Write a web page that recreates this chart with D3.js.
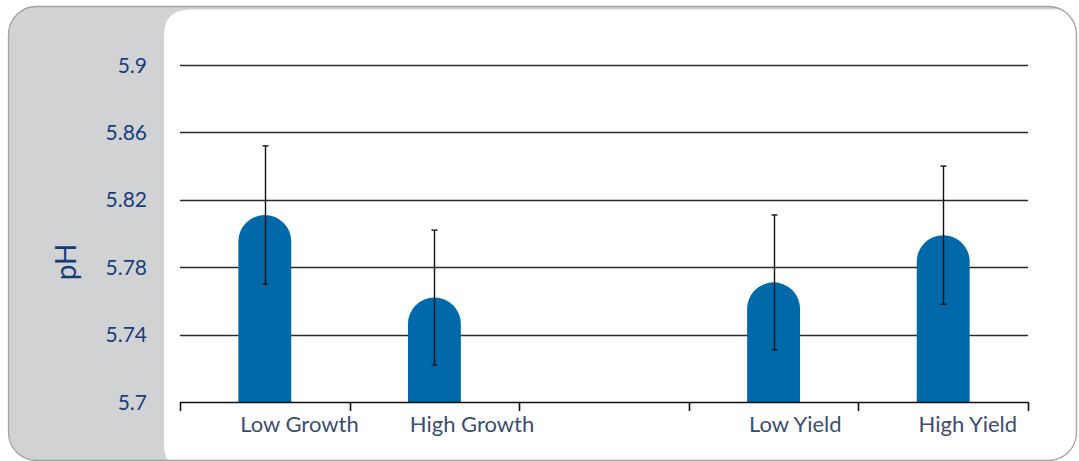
<!DOCTYPE html>
<html>
<head>
<meta charset="utf-8">
<script src="https://cdn.jsdelivr.net/npm/d3@7"></script>
<style>
html,body{margin:0;padding:0;background:#ffffff;}
svg{display:block;}
</style>
</head>
<body>
<svg id="chart" width="1079" height="461"></svg>
<script>
// ---- data ----
const slots = ["Low Growth", "High Growth", "", "Low Yield", "High Yield"];
const categories = ["Low Growth", "High Growth", "Low Yield", "High Yield"];
const values = [5.811, 5.762, 5.771, 5.799];
const errors = [0.041, 0.040, 0.040, 0.041];
const yTicks = [5.7, 5.74, 5.78, 5.82, 5.86, 5.9];
const yTickLabels = ["5.7", "5.74", "5.78", "5.82", "5.86", "5.9"];
const yTitle = "pH";

// ---- layout ----
const svg = d3.select("#chart");

const panel = {x: 8.5, y: 6.5, w: 1068, h: 454, r: 28};
const defs = svg.append("defs");
defs.append("clipPath").attr("id", "panelClip")
  .append("rect").attr("x", panel.x).attr("y", panel.y)
  .attr("width", panel.w).attr("height", panel.h).attr("rx", panel.r);

svg.append("rect").attr("x", panel.x).attr("y", panel.y)
  .attr("width", panel.w).attr("height", panel.h).attr("rx", panel.r)
  .attr("fill", "#d1d2d4");

// white plot area with rounded left corners
const wx = 164, wy = 9.5, wr = 26, wb = 470;
svg.append("path")
  .attr("clip-path", "url(#panelClip)")
  .attr("d", `M${wx},${wb - wr} L${wx},${wy + wr} Q${wx},${wy} ${wx + wr},${wy} L1090,${wy} L1090,${wb} L${wx + wr},${wb} Q${wx},${wb} ${wx},${wb - wr} Z`)
  .attr("fill", "#ffffff");

svg.append("rect").attr("x", panel.x).attr("y", panel.y)
  .attr("width", panel.w).attr("height", panel.h).attr("rx", panel.r)
  .attr("fill", "none").attr("stroke", "#a7a39b").attr("stroke-width", 1.3);

// ---- scales ----
const x = d3.scaleBand().domain(slots).range([180, 1028]).padding(0);
const y = d3.scaleLinear().domain([5.7, 5.9]).range([402, 65]);

const g = svg.append("g");

// gridlines
g.selectAll("line.grid").data(yTicks.filter(d => d > 5.7)).join("line")
  .attr("class", "grid")
  .attr("x1", 180).attr("x2", 1028)
  .attr("y1", d => Math.round(y(d)) + 0.5).attr("y2", d => Math.round(y(d)) + 0.5)
  .attr("stroke", "#2a2a2a").attr("stroke-width", 1.4);

// y labels
g.selectAll("text.ylab").data(yTicks).join("text")
  .attr("class", "ylab")
  .attr("x", 147).attr("y", d => y(d))
  .attr("dy", "0.36em")
  .attr("text-anchor", "end")
  .attr("font-family", "Lato, 'Open Sans', sans-serif")
  .attr("font-size", 21)
  .attr("fill", "#183d7b")
  .text((d, i) => yTickLabels[i]);

// y title
svg.append("text")
  .attr("transform", `translate(76,262) rotate(-90)`)
  .attr("text-anchor", "middle")
  .attr("font-family", "Lato, 'Open Sans', sans-serif")
  .attr("font-size", 28)
  .attr("fill", "#143a7a")
  .text(yTitle);

// bars with rounded top
const bw = x.step() * 0.312;
const r = bw / 2;
const base = y(5.7);
g.selectAll("path.bar").data(categories).join("path")
  .attr("class", "bar")
  .attr("d", (c, i) => {
    const cx = x(c) + x.bandwidth() / 2;
    const x0 = cx - r, top = y(values[i]);
    return `M${x0},${base} L${x0},${top + r} A${r},${r} 0 0 1 ${x0 + bw},${top + r} L${x0 + bw},${base} Z`;
  })
  .attr("fill", "#0069aa");

// error bars
const eg = g.selectAll("g.err").data(categories).join("g").attr("class", "err");
eg.each(function (c, i) {
  const cx = Math.round(x(c) + x.bandwidth() / 2) + 0.5;
  const t = y(values[i] + errors[i]), b = y(values[i] - errors[i]);
  const s = d3.select(this);
  s.append("line").attr("x1", cx).attr("x2", cx).attr("y1", t).attr("y2", b)
    .attr("stroke", "#111").attr("stroke-width", 1.4);
  [t, b].forEach(v => s.append("line").attr("x1", cx - 3).attr("x2", cx + 3)
    .attr("y1", v).attr("y2", v).attr("stroke", "#111").attr("stroke-width", 1.4));
});

// x axis line and boundary ticks
g.append("line").attr("x1", 180).attr("x2", 1028)
  .attr("y1", Math.round(base) + 0.5).attr("y2", Math.round(base) + 0.5)
  .attr("stroke", "#111").attr("stroke-width", 1.4);
const bounds = slots.map(s => x(s)).concat([x.range()[1]]);
g.selectAll("line.xtick").data(bounds).join("line")
  .attr("class", "xtick")
  .attr("x1", d => Math.round(d) + 0.5).attr("x2", d => Math.round(d) + 0.5)
  .attr("y1", base).attr("y2", base + 9)
  .attr("stroke", "#111").attr("stroke-width", 1.6);

// x labels (start-anchored inside each slot, as in the original)
g.selectAll("text.xlab").data(categories).join("text")
  .attr("class", "xlab")
  .attr("x", c => x(c) + x.step() * 0.355)
  .attr("y", 432)
  .attr("text-anchor", "start")
  .attr("font-family", "Lato, 'Open Sans', sans-serif")
  .attr("font-size", 22)
  .attr("fill", "#3b4d70")
  .text(c => c);
</script>
</body>
</html>
